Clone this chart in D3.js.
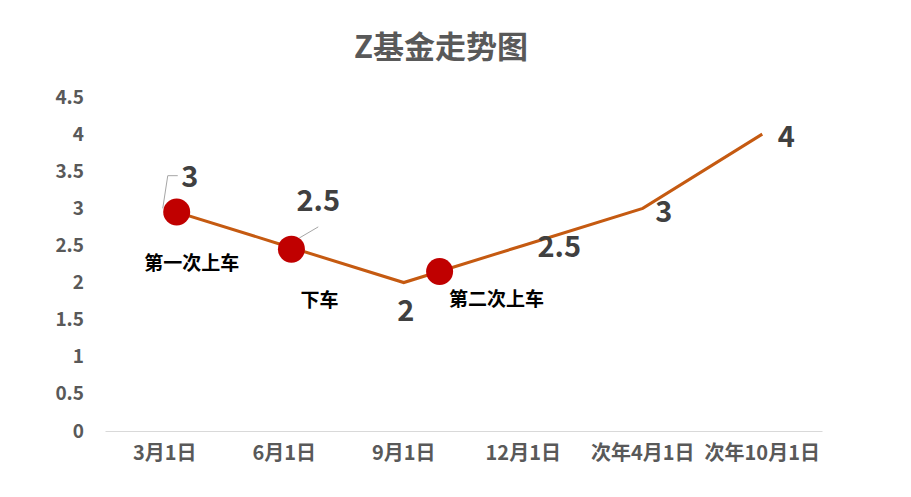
<!DOCTYPE html>
<html><head><meta charset="utf-8">
<script src="https://cdn.jsdelivr.net/npm/d3@7"></script>
<style>
html,body{margin:0;padding:0;background:#fff;}
svg{display:block;font-family:"Noto Sans CJK SC","Noto Sans",sans-serif;}
</style></head>
<body>
<svg id="c" width="911" height="497"></svg>
<script>
const categories = ["3月1日","6月1日","9月1日","12月1日","次年4月1日","次年10月1日"];
const values = [3, 2.5, 2, 2.5, 3, 4];
const yTicks = [0,0.5,1,1.5,2,2.5,3,3.5,4,4.5];
// annotation markers: category position (fractional index) and value
const markerPos = [0.1, 1.06, 2.3];
const markerVal = [2.95, 2.45, 2.15];
const markerText = ["第一次上车","下车","第二次上车"];
const title = "Z基金走势图";

const svg = d3.select("#c");
const x = d3.scaleBand().domain(categories).range([105, 822]);
const y = d3.scaleLinear().domain([0, 4.5]).range([431, 97]);
const cx = i => x(categories[0]) + x.step()*i + x.bandwidth()/2;

svg.append("text").attr("x", 441).attr("y", 58).attr("text-anchor","middle")
  .attr("font-size", 31).attr("font-weight","bold").attr("fill","#595959").text(title);

// y axis labels
const ya = svg.append("g").attr("transform","translate(84,0)")
  .call(d3.axisLeft(y).tickValues(yTicks).tickSize(0).tickPadding(0).tickFormat(d3.format("")));
ya.select(".domain").remove();
ya.selectAll("text").attr("font-size",19).attr("font-weight","bold").attr("fill","#595959")
  .attr("font-family","'Noto Sans CJK SC',sans-serif");

// x axis
const xa = svg.append("g").attr("transform","translate(0,431)")
  .call(d3.axisBottom(x).tickSize(0).tickPadding(15));
xa.select(".domain").attr("stroke","#d9d9d9").attr("stroke-width",1);
xa.selectAll("text").attr("font-size",20).attr("font-weight","bold").attr("fill","#595959")
  .attr("font-family","'Noto Sans CJK SC',sans-serif");

// line
const line = d3.line().x((d,i)=>x(categories[i])+x.bandwidth()/2).y(d=>y(d));
svg.append("path").datum(values).attr("d", line).attr("fill","none")
  .attr("stroke","#C55A11").attr("stroke-width",3);

// leader lines
const p0x = x(categories[0])+x.bandwidth()/2, p0y = y(values[0]);
svg.append("polyline").attr("points", `${p0x-2},${p0y} ${p0x+3},${y(3.44)} ${p0x+13},${y(3.44)}`)
  .attr("fill","none").attr("stroke","#a6a6a6").attr("stroke-width",1);
const p1x = x(categories[1])+x.bandwidth()/2;
svg.append("line").attr("x1",p1x+15).attr("y1",y(2.6)).attr("x2",p1x+34).attr("y2",y(2.75))
  .attr("stroke","#a6a6a6").attr("stroke-width",1);

// markers
svg.selectAll("circle.m").data(markerPos).enter().append("circle")
  .attr("cx", d=>cx(d)).attr("cy",(d,i)=>y(markerVal[i])).attr("r",13.5).attr("fill","#C00000");

// data labels
const labOff = [[25,-31],[34,-44],[2,28],[36,2],[21,4],[24,3]];
svg.selectAll("text.dl").data(values).enter().append("text")
  .attr("x",(d,i)=>x(categories[i])+x.bandwidth()/2+labOff[i][0])
  .attr("y",(d,i)=>y(d)+labOff[i][1]+10)
  .attr("text-anchor","middle").attr("font-size",29).attr("font-weight","bold").attr("fill","#404040")
  .attr("font-family","'Noto Sans CJK SC',sans-serif")
  .text(d=>d);

// annotation texts
const annOff = [[15,51],[28,51],[57,28]];
svg.selectAll("text.an").data(markerText).enter().append("text")
  .attr("x",(d,i)=>cx(markerPos[i])+annOff[i][0])
  .attr("y",(d,i)=>y(markerVal[i])+annOff[i][1]+7)
  .attr("text-anchor","middle").attr("font-size",19).attr("font-weight","bold").attr("fill","#000")
  .text(d=>d);
</script>
</body></html>
